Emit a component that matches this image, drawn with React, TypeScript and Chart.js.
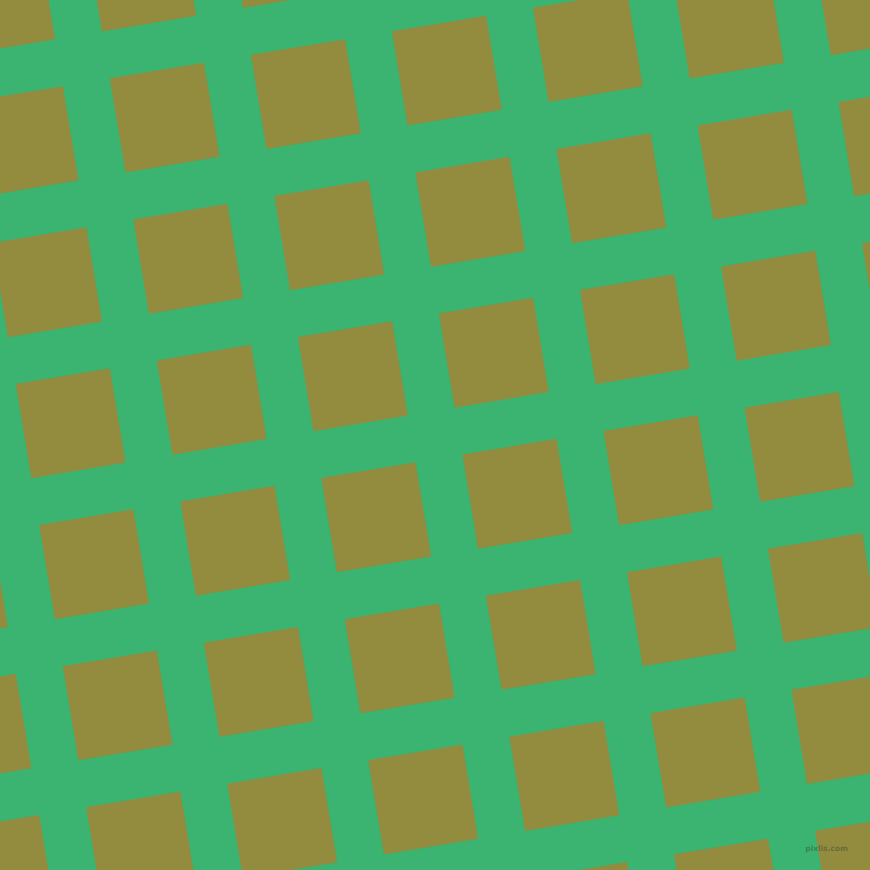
import React, { useEffect, useRef } from "react";
import { Chart, registerables } from "chart.js";

Chart.register(...registerables);

// Centres of the tiles (pixel units, y downward)
const tileX: number[] = [
  0.1, 141.2, 282.3,
  23.6, 164.7, 305.8, 446.8, 587.9, 729.0, 870.1,
  47.1, 188.2, 329.3, 470.3, 611.4, 752.5, 893.5,
  70.6, 211.7, 352.8, 493.8, 634.9, 776.0, 917.0,
  -47.0, 94.1, 235.2, 376.2, 517.3, 658.4, 799.5,
  -23.5, 117.6, 258.7, 399.7, 540.8, 681.9, 822.9,
  0.0, 141.1, 282.2, 423.2, 564.3, 705.4, 846.4,
  587.8, 728.9, 869.9,
];
const tileY: number[] = [
  0.0, -23.5, -47.0,
  141.1, 117.6, 94.1, 70.6, 47.1, 23.6, 0.2,
  282.2, 258.7, 235.2, 211.7, 188.2, 164.7, 141.2,
  423.2, 399.7, 376.3, 352.8, 329.3, 305.8, 282.3,
  587.8, 564.3, 540.8, 517.3, 493.8, 470.3, 446.9,
  728.9, 705.4, 681.9, 658.4, 634.9, 611.4, 587.9,
  869.9, 846.4, 823.0, 799.5, 776.0, 752.5, 729.0,
  917.0, 893.6, 870.1,
];
const tileSide = 95.5;
const tileAngle = -9.45;
const watermark = "pixlis.com";

const BG = "#3bb371";
const TILE = "#938b3d";

export default function App() {
  const ref = useRef<HTMLCanvasElement | null>(null);
  useEffect(() => {
    document.body.style.margin = "0";
    const canvas = ref.current!;
    const bgPlugin = {
      id: "bg",
      beforeDraw(chart: any) {
        const c = chart.ctx;
        c.save();
        c.fillStyle = BG;
        c.fillRect(0, 0, chart.width, chart.height);
        c.restore();
      },
      afterDraw(chart: any) {
        const c = chart.ctx;
        c.save();
        c.font = "bold 7.5px 'DejaVu Sans'";
        c.fillStyle = "rgba(60,75,55,0.5)";
        c.textAlign = "right";
        c.textBaseline = "alphabetic";
        c.fillText(watermark, 848, 851);
        c.restore();
      },
    };
    const chart = new Chart(canvas, {
      type: "scatter",
      data: {
        datasets: [
          {
            data: tileX.map((x, i) => ({ x, y: tileY[i] })),
            pointStyle: "rect",
            pointRadius: tileSide / Math.SQRT2,
            pointHoverRadius: tileSide / Math.SQRT2,
            pointRotation: tileAngle,
            pointBackgroundColor: TILE,
            pointBorderWidth: 0,
            pointBorderColor: TILE,
            clip: false as any,
          },
        ],
      },
      options: {
        animation: false,
        responsive: false,
        devicePixelRatio: 1,
        layout: { padding: 0, autoPadding: false },
        events: [],
        plugins: { legend: { display: false }, tooltip: { enabled: false }, title: { display: false } },
        scales: {
          x: { type: "linear", min: 0, max: 870, display: false },
          y: { type: "linear", min: 0, max: 870, reverse: true, display: false },
        },
      },
      plugins: [bgPlugin],
    });
    return () => chart.destroy();
  }, []);
  return <canvas ref={ref} width={870} height={870} style={{ display: "block", width: 870, height: 870 }} />;
}
